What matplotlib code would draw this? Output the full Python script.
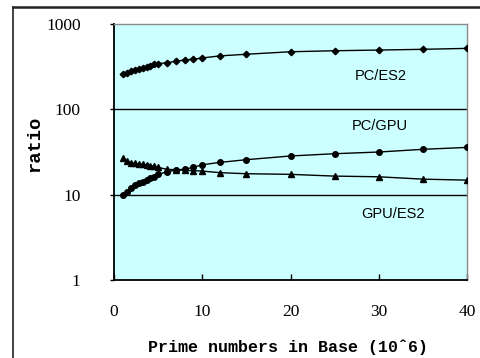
import matplotlib
matplotlib.use("Agg")
import matplotlib.pyplot as plt
from matplotlib.lines import Line2D
from matplotlib.ticker import FixedLocator, FixedFormatter, NullLocator

# ---- data ----
x_vals = [1.0, 1.45, 1.9, 2.35, 2.8, 3.25, 3.7, 4.1, 4.55, 5.0,
          6, 7, 8, 9, 10, 12, 15, 20, 25, 30, 35, 40]
pc_es2 = [257, 268, 284, 289, 297, 305, 316, 324, 337, 343,
          352, 365, 379, 386, 400, 423, 442, 473, 486, 495, 505, 518]
pc_gpu = [9.9, 10.8, 11.9, 13.0, 13.6, 14.2, 14.8, 15.5, 16.2, 17.3,
          18.5, 19.4, 19.9, 20.9, 22.4, 23.9, 25.7, 28.4, 30.2, 31.6, 34.0, 35.8]
gpu_es2 = [26.6, 24.8, 23.7, 23.3, 22.9, 22.7, 22.2, 21.8, 21.5, 20.9,
           19.8, 19.6, 19.3, 19.1, 18.9, 18.1, 17.6, 17.3, 16.5, 16.2, 15.2, 14.8]
x_ticks = [0, 10, 20, 30, 40]
y_ticks = [1, 10, 100, 1000]
y_tick_labels = ["1", "10", "100", "1000"]
series_labels = ["PC/ES2", "PC/GPU", "GPU/ES2"]
x_label = "Prime numbers in Base (10ˆ6)"
y_label = "ratio"

plt.rcParams["font.family"] = ["Liberation Serif", "DejaVu Serif"]
plt.rcParams["font.weight"] = "normal"

W, H = 481, 358
fig = plt.figure(figsize=(W / 100, H / 100), dpi=100)
ax = fig.add_axes([114 / W, 1 - 280 / H, (467 - 114) / W, (280 - 24) / H])
ax.set_facecolor("#CCFFFF")

ax.set_yscale("log")
ax.set_ylim(1, 1000)
ax.set_xlim(0, 40)

for yv in [10, 100]:
    ax.axhline(yv, color="black", lw=1.0, zorder=1)

ax.plot(x_vals, pc_es2, color="black", lw=1.0, marker="D", ms=3.3, zorder=3)
ax.plot(x_vals, pc_gpu, color="black", lw=1.0, marker="o", ms=4.0, zorder=3)
ax.plot(x_vals, gpu_es2, color="black", lw=1.0, marker="^", ms=4.4, zorder=3)

ax.yaxis.set_major_locator(FixedLocator(y_ticks))
ax.yaxis.set_major_formatter(FixedFormatter(y_tick_labels))
ax.yaxis.set_minor_locator(NullLocator())
ax.set_xticks(x_ticks)
ax.set_xticklabels([str(v) for v in x_ticks])

ax.tick_params(axis="x", direction="in", length=4, width=1, pad=17,
               labelsize=12.5, colors="black")
ax.tick_params(axis="y", direction="out", length=3, width=1, pad=21,
               labelsize=12.5)

for s in ["left", "bottom"]:
    ax.spines[s].set_color("black")
    ax.spines[s].set_linewidth(1.3)
for s in ["top", "right"]:
    ax.spines[s].set_color("#8a8a8a")
    ax.spines[s].set_linewidth(1.0)

sans = ["Liberation Sans", "DejaVu Sans"]
ax.text(381 / W, 1 - 76 / H, series_labels[0], transform=fig.transFigure,
        ha="center", va="center", fontsize=10.5, family=sans)
ax.text(380 / W, 1 - 126 / H, series_labels[1], transform=fig.transFigure,
        ha="center", va="center", fontsize=10.5, family=sans)
ax.text(393 / W, 1 - 214 / H, series_labels[2], transform=fig.transFigure,
        ha="center", va="center", fontsize=10.5, family=sans)

mono = ["Liberation Mono", "DejaVu Sans Mono"]
fig.text(288 / W, 1 - 347 / H, x_label, ha="center", va="center",
         fontsize=12, fontweight="bold", family=mono)
fig.text(35 / W, 1 - 144 / H, y_label, ha="center", va="center",
         rotation=90, fontsize=13.5, fontweight="bold", family=mono)

# outer chart border (left and top only visible)
fig.add_artist(Line2D([12.5 / W, 12.5 / W], [0, 1 - 7 / H], transform=fig.transFigure,
                      color="#222222", lw=1.2))
fig.add_artist(Line2D([12.5 / W, 1], [1 - 7 / H, 1 - 7 / H], transform=fig.transFigure,
                      color="#222222", lw=1.8))

fig.savefig("out.png", dpi=100)
